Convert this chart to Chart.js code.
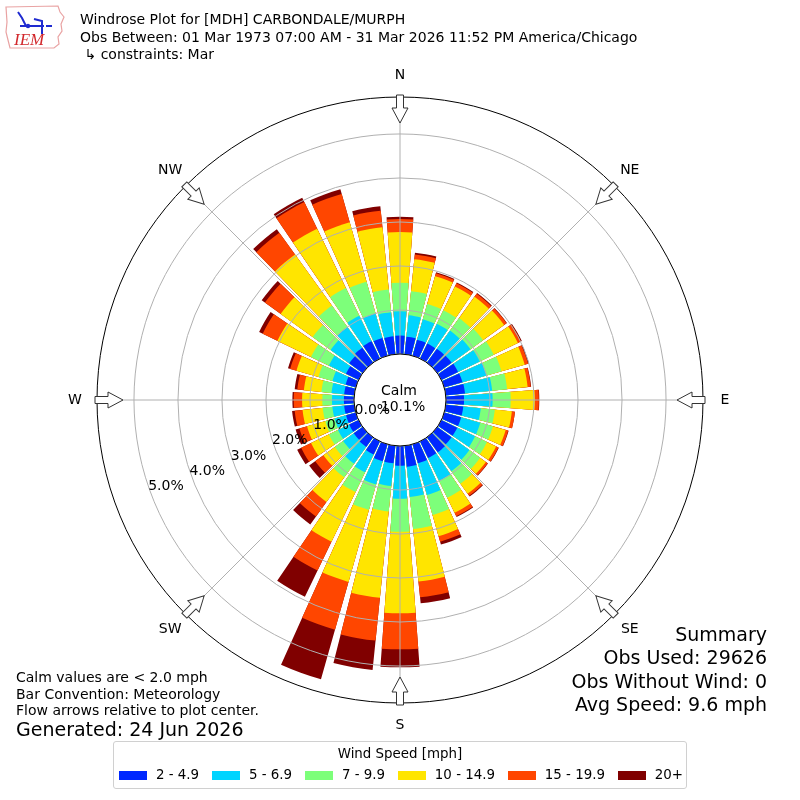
<!DOCTYPE html>
<html>
<head>
<meta charset="utf-8">
<script src="https://cdn.jsdelivr.net/npm/chart.js@4.4.1/dist/chart.umd.min.js"></script>
<style>
  html, body { margin: 0; padding: 0; background: #fff; }
  body { width: 800px; height: 800px; position: relative; overflow: hidden; font-family: "DejaVu Sans", sans-serif; color: #000; }
  #rose { position: absolute; left: 0; top: 0; }
  .txt { position: absolute; white-space: pre; }
  #logo { position: absolute; left: 4px; top: 4px; }
  #legend { position: absolute; left: 113px; top: 741px; width: 572px; height: 46px; border: 1px solid #d0d0d0; border-radius: 3px; font-size: 13.4px; }
  #legend .ttl { position: absolute; left: 0; right: 0; top: 3px; text-align: center; line-height: 18px; }
  #legend .row { position: absolute; left: 5px; right: 0; top: 24px; display: flex; justify-content: flex-start; gap: 12.8px; line-height: 18px; white-space: nowrap; }
  #legend .item { display: flex; align-items: center; flex-shrink: 0; }
  #legend .sw { width: 27.7px; height: 9px; margin-right: 9.3px; }
</style>
</head>
<body>
<canvas id="rose" width="800" height="800"></canvas>

<svg id="logo" width="62" height="46" viewBox="0 0 62 46">
  <path d="M2 3 L54 2 L56 8 L60 13 L57 20 L58 27 L54 33 L55 40 L50 44 L6 44 L4 36 L2 28 L3 18 Z" fill="none" stroke="#e9a3a3" stroke-width="1.2"/>
  <path d="M14 8 L18 14 L22 22 M16 22 L40 22 M30 15 L38 17 L38 30 M42 22 L48 22" fill="none" stroke="#1f2bd0" stroke-width="2"/>
  <circle cx="24" cy="22" r="2.2" fill="#1f2bd0"/>
  <text x="10" y="41" font-family="Liberation Serif, serif" font-style="italic" font-size="17" fill="#d2282c">IEM</text>
</svg>

<div class="txt" style="left:80px;top:11px;font-size:14px;line-height:17.5px">Windrose Plot for [MDH] CARBONDALE/MURPH
Obs Between: 01 Mar 1973 07:00 AM - 31 Mar 2026 11:52 PM America/Chicago
 ↳ constraints: Mar</div>

<div class="txt" style="left:16px;top:669px;font-size:14px;line-height:16.5px">Calm values are &lt; 2.0 mph
Bar Convention: Meteorology
Flow arrows relative to plot center.</div>
<div class="txt" style="left:16px;top:718px;font-size:19px;line-height:22px">Generated: 24 Jun 2026</div>

<div class="txt" style="right:33px;top:623px;font-size:19px;line-height:23.3px;text-align:right">Summary
Obs Used: 29626
Obs Without Wind: 0
Avg Speed: 9.6 mph</div>

<div id="legend"><div class="ttl">Wind Speed [mph]</div><div class="row" id="legendRow"></div></div>

<script>
// wind direction bins (degrees, meteorological)
const dirs = [0, 10, 20, 30, 40, 50, 60, 70, 80, 90, 100, 110, 120, 130, 140, 150, 160, 170,
  180, 190, 200, 210, 220, 230, 240, 250, 260, 270, 280, 290, 300, 310, 320, 330, 340, 350];
const speedBins = ["2 - 4.9", "5 - 6.9", "7 - 9.9", "10 - 14.9", "15 - 19.9", "20+"];
const binColors = ["#0028ff", "#00d4ff", "#7dff7a", "#ffe500", "#ff4600", "#800000"];

// percent of observations per direction bin, per speed class
const freq2to5 = [0.42, 0.40, 0.38, 0.38, 0.39, 0.40, 0.42, 0.43, 0.44, 0.41, 0.40, 0.40, 0.40, 0.40, 0.42, 0.42, 0.45, 0.48,
  0.45, 0.40, 0.40, 0.33, 0.27, 0.25, 0.24, 0.23, 0.23, 0.23, 0.23, 0.24, 0.32, 0.38, 0.42, 0.44, 0.42, 0.41];
const freq5to7 = [0.55, 0.49, 0.48, 0.50, 0.51, 0.53, 0.55, 0.57, 0.62, 0.65, 0.40, 0.45, 0.45, 0.50, 0.53, 0.58, 0.75, 0.69,
  0.75, 0.52, 0.55, 0.45, 0.47, 0.30, 0.28, 0.27, 0.27, 0.27, 0.29, 0.31, 0.43, 0.52, 0.58, 0.64, 0.58, 0.55];
const freq7to10 = [0.65, 0.55, 0.36, 0.34, 0.35, 0.35, 0.35, 0.35, 0.34, 0.41, 0.32, 0.30, 0.30, 0.30, 0.35, 0.42, 0.47, 0.73,
  0.75, 0.58, 0.60, 0.50, 0.38, 0.23, 0.23, 0.22, 0.22, 0.22, 0.23, 0.33, 0.45, 0.50, 0.60, 0.70, 0.75, 0.52];
const freq10to15 = [1.15, 0.73, 0.66, 0.60, 0.60, 0.59, 0.61, 0.55, 0.47, 0.55, 0.39, 0.30, 0.23, 0.16, 0.28, 0.38, 0.50, 1.20,
  1.85, 1.97, 1.70, 1.25, 0.69, 0.32, 0.45, 0.43, 0.46, 0.46, 0.40, 0.52, 0.85, 0.90, 1.43, 1.50, 1.40, 1.42];
const freq15to20 = [0.30, 0.11, 0.07, 0.08, 0.08, 0.07, 0.08, 0.08, 0.07, 0.09, 0.07, 0.06, 0.06, 0.05, 0.06, 0.09, 0.13, 0.36,
  0.82, 0.98, 1.13, 0.73, 0.41, 0.23, 0.25, 0.18, 0.18, 0.19, 0.15, 0.15, 0.37, 0.44, 0.61, 0.67, 0.67, 0.38];
const freq20up = [0.05, 0.04, 0.02, 0.02, 0.02, 0.01, 0.02, 0.02, 0.01, 0.01, 0.00, 0.01, 0.01, 0.01, 0.02, 0.02, 0.07, 0.14,
  0.41, 0.67, 1.17, 0.66, 0.22, 0.17, 0.10, 0.09, 0.06, 0.03, 0.06, 0.05, 0.09, 0.09, 0.10, 0.11, 0.11, 0.10];

const calmPct = 10.1;
const ringTicks = [0, 1, 2, 3, 4, 5];
const compass = ["N", "NE", "E", "SE", "S", "SW", "W", "NW"];

const rMin = -1.045;  // leaves room for the calm circle
const rMax = 5.84;
const barDeg = 8.4;
const gapDeg = 10 - barDeg;

// stack the speed classes: each dataset holds the running total,
// the smallest total is dataset 0 and is drawn on top
const series = [freq2to5, freq5to7, freq7to10, freq10to15, freq15to20, freq20up];
let running = dirs.map(() => 0);
const cumulative = series.map((s) => {
  running = running.map((v, i) => v + s[i]);
  return running;
});

// every bin is followed by a small empty wedge to leave the white gap
const labels = dirs.flatMap((d) => [d + "°", ""]);

const datasets = cumulative.map((cum, k) => ({
  label: speedBins[k],
  data: dirs.flatMap((d, i) => [cum[i], 0]),
  backgroundColor: (c) => (c.dataIndex % 2 ? "rgba(0,0,0,0)" : binColors[k]),
  borderWidth: 0,
  angle: (c) => (c.dataIndex % 2 ? gapDeg : barDeg)
}));

const roseDecor = {
  id: "roseDecor",
  afterDraw(chart) {
    const r = chart.scales.r;
    const ctx = chart.ctx;
    const cx = r.xCenter;
    const cy = r.yCenter;
    const rCalm = r.getDistanceFromCenterForValue(0);
    const rOut = r.drawingArea;
    ctx.save();

    ctx.strokeStyle = "#b0b0b0";
    ctx.lineWidth = 1;
    compass.forEach((_, k) => {
      const a = (k * 45 - 90) * Math.PI / 180;
      ctx.beginPath();
      ctx.moveTo(cx + rCalm * Math.cos(a), cy + rCalm * Math.sin(a));
      ctx.lineTo(cx + rOut * Math.cos(a), cy + rOut * Math.sin(a));
      ctx.stroke();
    });

    ctx.beginPath();
    ctx.arc(cx, cy, rCalm, 0, 2 * Math.PI);
    ctx.fillStyle = "#fff";
    ctx.fill();
    ctx.strokeStyle = "#000";
    ctx.stroke();

    ctx.fillStyle = "#000";
    ctx.textAlign = "center";
    ctx.textBaseline = "middle";
    ctx.font = '14px "DejaVu Sans"';

    const la = 20.3 * Math.PI / 180;
    ringTicks.forEach((v) => {
      const d = r.getDistanceFromCenterForValue(v) - 16.5;
      ctx.fillText(v.toFixed(1) + "%", cx - d * Math.cos(la), cy + d * Math.sin(la));
    });
    ctx.fillText("Calm", cx - 1, cy - 9);
    ctx.fillText(calmPct.toFixed(1) + "%", cx + 3, cy + 7.5);

    compass.forEach((name, k) => {
      const a = (k * 45 - 90) * Math.PI / 180;
      ctx.save();
      ctx.translate(cx, cy);
      ctx.rotate(a);
      const t = rOut + 2, hb = rOut - 11, tip = rOut - 26;
      ctx.beginPath();
      ctx.moveTo(t, -3.5);
      ctx.lineTo(hb, -3.5);
      ctx.lineTo(hb, -8);
      ctx.lineTo(tip, 0);
      ctx.lineTo(hb, 8);
      ctx.lineTo(hb, 3.5);
      ctx.lineTo(t, 3.5);
      ctx.closePath();
      ctx.fillStyle = "#fff";
      ctx.fill();
      ctx.strokeStyle = "#333";
      ctx.stroke();
      ctx.restore();
      const d = rOut + 22;
      ctx.fillStyle = "#000";
      ctx.fillText(name, cx + d * Math.cos(a), cy + d * Math.sin(a));
    });
    ctx.restore();
  }
};

new Chart(document.getElementById("rose"), {
  type: "polarArea",
  data: { labels, datasets },
  options: {
    responsive: false,
    animation: false,
    events: [],
    layout: { padding: { left: 97, right: 97, top: 97, bottom: 97 } },
    plugins: { legend: { display: false }, tooltip: { enabled: false } },
    scales: {
      r: {
        min: rMin,
        max: rMax,
        startAngle: -barDeg / 2,
        ticks: { display: false },
        angleLines: { display: false },
        pointLabels: { display: false },
        grid: {
          circular: true,
          z: 1,
          lineWidth: 1,
          color: (c) => (c.tick && c.tick.value === rMax ? "#000" : "#b0b0b0")
        },
        afterBuildTicks: (scale) => {
          scale.ticks = ringTicks.concat([rMax]).map((v) => ({ value: v }));
        }
      }
    }
  },
  plugins: [roseDecor]
});

const legendRow = document.getElementById("legendRow");
speedBins.forEach((name, k) => {
  const item = document.createElement("div");
  item.className = "item";
  item.innerHTML = '<span class="sw" style="background:' + binColors[k] + '"></span><span>' + name + "</span>";
  legendRow.appendChild(item);
});
</script>
</body>
</html>
